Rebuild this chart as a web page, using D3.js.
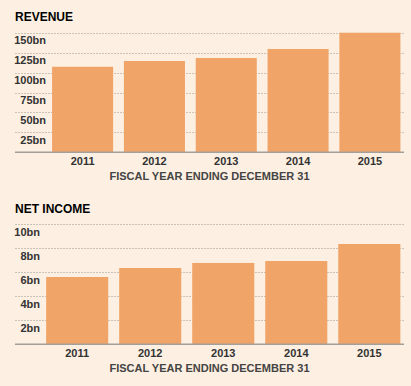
<!DOCTYPE html>
<meta charset='utf-8'>
<html>
  <style>
    body { margin: 0; background: #fdf0e2; }
    svg { display: block; }
    text { font-family: "Liberation Sans", Arial, sans-serif; font-weight: bold; }
    .title { font-size: 12px; fill: #000; }
    .tick-label { font-size: 11px; fill: #333; }
    .axis-title { font-size: 11px; fill: #444; }
    .grid { stroke: #cbc3b8; stroke-width: 1px; stroke-dasharray: 2,1; }
    .baseline { stroke: #a3a09c; stroke-width: 1.5px; }
  </style>
  <head>
    <script src="https://cdnjs.cloudflare.com/ajax/libs/d3/7.8.5/d3.min.js"></script>
  </head>
  <body>
    <div id="chart"></div>
    <script>
      var years = ['2011', '2012', '2013', '2014', '2015'],
        revenue = [107.4, 114.6, 118.4, 129.7, 150.1],
        revenueTicks = [25, 50, 75, 100, 125, 150],
        netIncome = [5.61, 6.36, 6.78, 6.94, 8.36],
        netTicks = [2, 4, 6, 8, 10],
        xAxisTitle = 'FISCAL YEAR ENDING DECEMBER 31';

      var width = 411, height = 386,
        left = 15, right = 404,
        barColor = '#f0a468';

      var svg = d3.select('#chart').append('svg')
        .attr('width', width)
        .attr('height', height);

      svg.append('rect').attr('width', width).attr('height', height).attr('fill', '#fdf0e2');

      function panel(opts) {
        var g = svg.append('g');

        var y = d3.scaleLinear().domain([0, opts.max]).range([opts.bottom, opts.top]);
        var x = d3.scaleBand().domain(years)
          .range([opts.barLeft, right])
          .paddingInner(0.15)
          .paddingOuter(0.05);

        g.append('text')
          .attr('class', 'title')
          .attr('x', left)
          .attr('y', opts.top - 11.5)
          .text(opts.title);

        // gridlines + labels
        g.selectAll('.grid').data(opts.ticks).enter().append('line')
          .attr('class', 'grid')
          .attr('x1', left).attr('x2', right)
          .attr('y1', function(d) { return Math.round(y(d)) + 0.5; })
          .attr('y2', function(d) { return Math.round(y(d)) + 0.5; });

        g.selectAll('.tick-label').data(opts.ticks).enter().append('text')
          .attr('class', 'tick-label')
          .attr('x', opts.barLeft - 2.5)
          .attr('y', function(d) { return y(d) + 11.5; })
          .attr('text-anchor', 'end')
          .text(function(d) { return d + 'bn'; });

        g.selectAll('.bar').data(opts.values).enter().append('rect')
          .attr('class', 'bar')
          .attr('x', function(d, i) { return x(years[i]); })
          .attr('width', x.bandwidth())
          .attr('y', function(d) { return y(d); })
          .attr('height', function(d) { return y(0) - y(d); })
          .attr('fill', barColor);

        g.append('line')
          .attr('class', 'baseline')
          .attr('x1', left).attr('x2', right)
          .attr('y1', opts.bottom).attr('y2', opts.bottom);

        var xAxis = d3.axisBottom(x).tickSize(0).tickPadding(0);
        var ax = g.append('g')
          .attr('transform', 'translate(0,' + opts.bottom + ')')
          .call(xAxis);
        ax.select('.domain').remove();
        ax.selectAll('text')
          .attr('class', 'tick-label')
          .attr('fill', null)
          .attr('dy', null)
          .attr('y', 12.8)
          .style('font-family', null)
          .style('font-size', null);
        ax.attr('font-family', null).attr('font-size', null);

        g.append('text')
          .attr('class', 'axis-title')
          .attr('x', (left + right) / 2)
          .attr('y', opts.bottom + 27.2)
          .attr('text-anchor', 'middle')
          .text(xAxisTitle);
      }

      panel({ title: 'REVENUE', values: revenue, ticks: revenueTicks, max: 150,
              top: 32.8, bottom: 152.3, barLeft: 48.5 });
      panel({ title: 'NET INCOME', values: netIncome, ticks: netTicks, max: 10,
              top: 224.3, bottom: 344.3, barLeft: 42.5 });
    </script>
  </body>
</html>
